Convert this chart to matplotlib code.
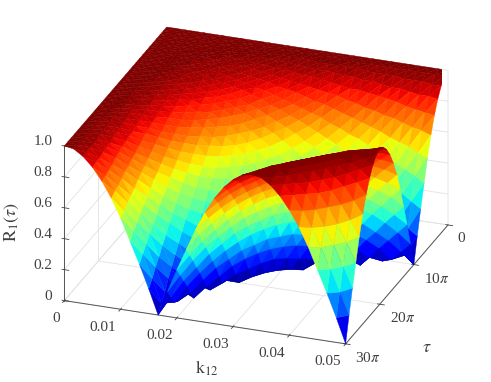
import numpy as np
import matplotlib
matplotlib.use("Agg")
import matplotlib.pyplot as plt

plt.rcParams['font.family'] = ['Liberation Serif', 'DejaVu Serif']
plt.rcParams['mathtext.fontset'] = 'stix'

k_max = 0.05
tau_max = 30 * np.pi
k_ticks = [0, 0.01, 0.02, 0.03, 0.04, 0.05]
k_labels = ['0', '0.01', '0.02', '0.03', '0.04', '0.05']
tau_ticks = [0, 10 * np.pi, 20 * np.pi, 30 * np.pi]
tau_labels = ['0', r'10$\pi$', r'20$\pi$', r'30$\pi$']
r_ticks = [0, 0.2, 0.4, 0.6, 0.8, 1.0]
r_labels = ['0', '0.2', '0.4', '0.6', '0.8', '1.0']

# Surface height in percent; rows step along k12, columns along tau
R_percent = [
[100,100,100,100,100,100,100,100,100,100,100,100,100,100,100,100,100,100,100,100,100,100,100,100,100,100,100,100,100,100,100],
[100,100,100,100,100,100,100,100,100,100,100,100,100,100,100,100,100,100,100,100,99,99,99,99,99,99,99,99,99,99,99],
[100,100,100,100,100,100,100,100,100,100,99,99,99,99,99,99,99,98,98,98,98,98,97,97,97,97,96,96,96,95,95],
[100,100,100,100,100,100,100,99,99,99,99,99,98,98,98,97,97,96,96,96,95,95,94,94,93,92,92,91,90,90,89],
[100,100,100,100,100,99,99,99,99,98,98,97,97,96,96,95,94,94,93,92,91,90,90,89,88,87,86,84,83,82,81],
[100,100,100,100,99,99,99,98,98,97,97,96,95,94,93,92,91,90,89,88,87,85,84,82,81,79,78,76,74,73,71],
[100,100,100,100,99,99,98,98,97,96,95,94,93,92,90,89,88,86,84,83,81,79,77,75,73,71,68,66,64,61,59],
[100,100,100,99,99,98,98,97,96,95,93,92,90,89,87,85,83,81,79,77,74,72,69,67,64,61,58,55,52,49,45],
[100,100,100,99,99,98,97,96,94,93,91,90,88,86,83,81,78,76,73,70,67,64,60,57,54,50,46,43,39,35,31],
[100,100,100,99,98,97,96,95,93,91,89,87,84,82,79,76,73,70,66,63,59,55,51,47,43,38,34,29,25,20,16],
[100,100,99,99,98,97,95,93,91,89,87,84,81,78,74,71,67,63,59,54,50,45,41,36,31,26,21,16,10,5,0],
[100,100,99,99,97,96,94,92,90,87,84,81,77,73,69,65,60,56,51,46,41,35,30,24,19,13,7,2,4,10,16],
[100,100,99,98,97,95,93,90,88,84,81,77,73,68,64,59,54,48,43,37,31,25,19,13,6,0,6,13,19,25,31],
[100,100,99,98,96,94,92,89,86,82,78,73,68,63,58,52,46,40,34,27,21,14,7,1,6,13,20,26,33,39,45],
[100,100,99,98,96,93,90,87,83,79,74,69,64,58,52,45,39,32,25,18,10,3,4,11,19,26,33,40,46,53,59],
[100,100,99,97,95,92,89,85,81,76,71,65,59,52,45,38,31,23,16,8,0,8,16,23,31,38,45,52,59,65,71],
[100,100,99,97,94,91,88,83,78,73,67,60,54,46,39,31,23,15,6,2,10,19,27,35,43,50,57,64,70,76,81],
[100,100,98,96,94,90,86,81,76,70,63,56,48,40,32,23,15,6,3,12,21,29,38,46,54,61,68,74,80,85,89],
[100,100,98,96,93,89,84,79,73,66,59,51,43,34,25,16,6,3,13,22,31,40,48,56,64,71,77,83,88,92,95],
[100,100,98,96,92,88,83,77,70,63,54,46,37,27,18,8,2,12,22,31,41,50,58,66,73,79,85,90,94,97,99],
[100,99,98,95,91,87,81,74,67,59,50,41,31,21,10,0,10,21,31,41,50,59,67,74,81,87,91,95,98,99,100],
[100,99,98,95,90,85,79,72,64,55,45,35,25,14,3,8,19,29,40,50,59,67,75,82,88,92,96,99,100,100,99],
[100,99,97,94,90,84,77,69,60,51,41,30,19,7,4,16,27,38,48,58,67,75,82,88,93,97,99,100,100,98,95],
[100,99,97,94,89,82,75,67,57,47,36,24,13,1,11,23,35,46,56,66,74,82,88,93,97,99,100,99,97,94,89],
[100,99,97,93,88,81,73,64,54,43,31,19,6,6,19,31,43,54,64,73,81,88,93,97,99,100,99,97,93,88,81],
[100,99,97,92,87,79,71,61,50,38,26,13,0,13,26,38,50,61,71,79,87,92,97,99,100,99,97,92,87,79,71],
[100,99,96,92,86,78,68,58,46,34,21,7,6,20,33,45,57,68,77,85,91,96,99,100,99,97,92,86,78,69,59],
[100,99,96,91,84,76,66,55,43,29,16,2,13,26,40,52,64,74,83,90,95,99,100,99,97,92,86,78,68,57,45],
[100,99,96,90,83,74,64,52,39,25,10,4,19,33,46,59,70,80,88,94,98,100,100,97,93,87,78,68,57,44,31],
[100,99,95,90,82,73,61,49,35,20,5,10,25,39,53,65,76,85,92,97,99,100,98,94,88,79,69,57,44,30,16],
[100,99,95,89,81,71,59,45,31,16,0,16,31,45,59,71,81,89,95,99,100,99,95,89,81,71,59,45,31,16,0],
]

R = np.array(R_percent, dtype=float) / 100.0
n_k, n_tau = R.shape
k_grid = np.linspace(0, k_max, n_k)
tau_grid = np.linspace(0, tau_max, n_tau)
K, T = np.meshgrid(k_grid, tau_grid, indexing='ij')

# Split each grid cell along the diagonal that follows the colour bands
node = np.arange(n_k * n_tau).reshape(n_k, n_tau)
a, b, c, d = node[:-1, :-1].ravel(), node[1:, :-1].ravel(), node[:-1, 1:].ravel(), node[1:, 1:].ravel()
triangles = np.vstack([np.column_stack([a, b, c]), np.column_stack([b, d, c])])
face = plt.get_cmap('jet', 64)(R.ravel()[triangles].mean(axis=1))

fig = plt.figure(figsize=(4.91, 3.82), dpi=100)
ax = fig.add_axes([(251 - 191) / 491, 0.001, 382 / 491, 1.0], projection='3d')
ax.set_proj_type('ortho')
ax.set_box_aspect((1, 1, 0.57), zoom=1.16)
ax.view_init(elev=25, azim=-70)

surf = ax.plot_trisurf(K.ravel(), T.ravel(), R.ravel(), triangles=triangles, color='white',
                       shade=False, linewidth=0.3, antialiased=True)
surf.set_facecolor(face)
surf.set_edgecolor(face)

ax.set_xlim(0, k_max, view_margin=0)
ax.set_ylim(tau_max, 0, view_margin=0)
ax.set_zlim(0, 1, view_margin=0)

ax.set_xticks(k_ticks, k_labels)
ax.set_yticks(tau_ticks, tau_labels)
ax.set_zticks(r_ticks, r_labels)

dark = '#404040'
for axis in (ax.xaxis, ax.yaxis, ax.zaxis):
    axis.set_pane_color((1, 1, 1, 0))
    axis.pane.set_edgecolor((1, 1, 1, 0))
    axis.line.set_color('#555555')
    axis.line.set_linewidth(0.7)
    axis._axinfo['grid'].update(color='#e2e2e2', linewidth=0.6)
    axis._axinfo['tick'].update(inward_length={True: 0.0, False: 0.0},
                                outward_length={True: 0.1, False: 0.1},
                                linewidth={True: 0.6, False: 0.5}, color='#555555')
    axis.set_tick_params(labelsize=11, labelcolor=dark, colors=dark)
ax.xaxis.set_tick_params(pad=-2)
ax.yaxis.set_tick_params(pad=-3)
ax.zaxis.set_tick_params(pad=-3.5)
ax.zaxis.set_ticks_position('upper')
plt.setp(ax.get_xticklabels(), ha='right')
plt.setp(ax.get_yticklabels(), ha='left')
plt.setp(ax.get_zticklabels(), ha='right', va='bottom')

fig.text(12 / 491, 1 - 222 / 382, r'$\mathrm{R}_1(\tau)$', fontsize=13, color=dark,
         rotation=90, ha='center', va='center')
fig.text(207 / 491, 1 - 368 / 382, r'$\mathrm{k}_{12}$', fontsize=13, color=dark,
         ha='center', va='center')
fig.text(427 / 491, 1 - 348 / 382, r'$\tau$', fontsize=13, color=dark,
         ha='center', va='center')

fig.savefig('out.png', dpi=100)
